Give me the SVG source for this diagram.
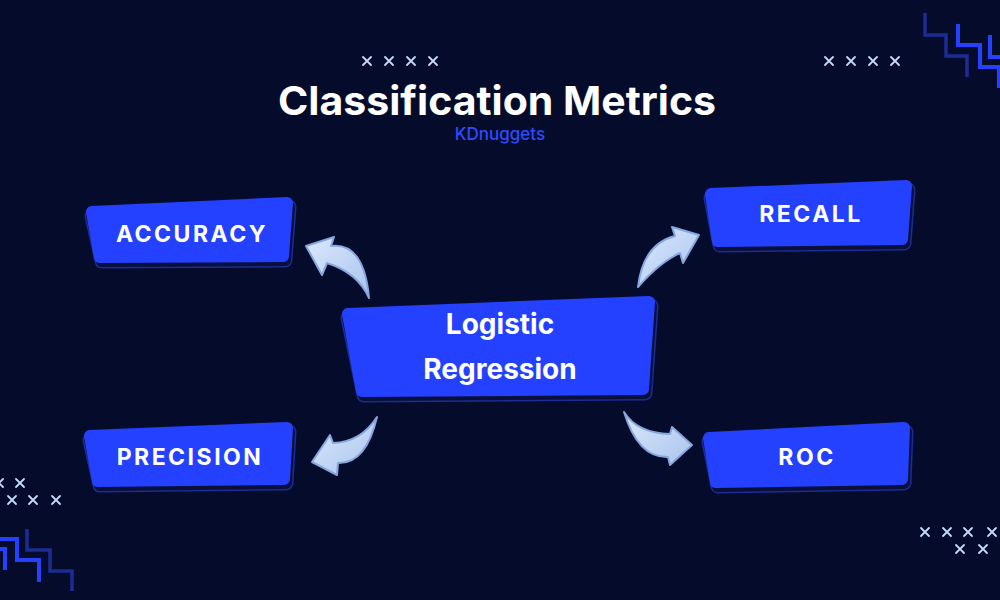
<svg xmlns="http://www.w3.org/2000/svg" width="1000" height="600" viewBox="0 0 1000 600">
<defs>
<style>
.bg{fill:#050b2b}
.sh1{fill:#1b2c95;stroke:#1b2c95;stroke-width:15;stroke-linejoin:round}
.sh2{fill:#08103a;stroke:#08103a;stroke-width:12;stroke-linejoin:round}
.box{fill:#2441ff;stroke:#2441ff;stroke-width:12;stroke-linejoin:round}
.lbl{fill:#ffffff;font-family:Inter,"Liberation Sans",sans-serif;font-weight:700;text-anchor:middle}
.cap{font-size:23px;letter-spacing:2.5px}
.big{font-size:28px}
.arr{fill:url(#ag);stroke:#86a6de;stroke-width:2;stroke-linejoin:round}
.x{stroke:#c9d9f7;stroke-width:1.8;stroke-linecap:round;fill:none}
.stB{stroke:#2441ff;stroke-width:4;fill:none}
.stD{stroke:#1c2c94;stroke-width:3.5;fill:none}
</style>
<linearGradient id="ag" x1="0" y1="0" x2="1" y2="1">
<stop offset="0" stop-color="#dbe8fb"/>
<stop offset="1" stop-color="#aac4ee"/>
</linearGradient>
<path id="xm" class="x" d="M-4,-4 L4,4 M4,-4 L-4,4"/>
</defs>
<rect class="bg" x="0" y="0" width="1000" height="600"/>

<g id="decor">
<use href="#xm" x="367" y="61"/><use href="#xm" x="389" y="61"/><use href="#xm" x="411" y="61"/><use href="#xm" x="433" y="61"/>
<use href="#xm" x="829" y="61"/><use href="#xm" x="851" y="61"/><use href="#xm" x="873" y="61"/><use href="#xm" x="895" y="61"/>
<use href="#xm" x="-1" y="483"/><use href="#xm" x="20" y="483"/>
<use href="#xm" x="12" y="500"/><use href="#xm" x="33" y="500"/><use href="#xm" x="56" y="500"/>
<use href="#xm" x="925" y="532"/><use href="#xm" x="947" y="532"/><use href="#xm" x="968" y="532"/><use href="#xm" x="992" y="532"/>
<use href="#xm" x="960" y="549"/><use href="#xm" x="983" y="549"/>
<path class="stD" d="M925,13 V35 H946 V56 H967 V77"/>
<path class="stB" d="M958,24 V45 H980 V67 H1001"/>
<path class="stB" d="M990,35 V57 H1001"/>
<path class="stB" d="M999,67 V88"/>
<path class="stD" d="M27,529 V550 H50 V571 H72 V591"/>
<path class="stB" d="M0,539 H17 V560 H39 V582"/>
<path class="stB" d="M0,549 H5 V570"/>
</g>

<g id="title">
<text class="lbl" x="497" y="115" font-size="40" textLength="438" lengthAdjust="spacingAndGlyphs">Classification Metrics</text>
<text x="500" y="140" font-family="Inter,'Liberation Sans',sans-serif" font-size="17" font-weight="500" fill="#2d4cff" text-anchor="middle">KDnuggets</text>
</g>

<g id="connectors">
<path class="arr" d="M369,298 Q364,242 331,246 L334,237 L306,246 L322,275 L327,263 Q358,273 369,298 Z"/>
<path class="arr" d="M638,287 Q643,244 675,236 L672,227 L699,235 L683,263 L680,253 Q660,262 638,287 Z"/>
<path class="arr" d="M377,417 Q361,442 333,443 L330,435 L312,462 L337,475 L338,463 Q366,464 377,417 Z"/>
<path class="arr" d="M624,412 Q637,433 670,434 L672,427 L692,445 L670,465 L668,457 Q638,458 624,412 Z"/>
</g>

<g id="node-center">
<polygon class="sh1" points="348,318 651,306 645,393 364,395"/>
<polygon class="sh2" points="348,318 651,306 645,393 364,395"/>
<polygon class="box" points="348,314 649,302 643,389 362,391"/>
<text class="lbl big" x="500" y="334">Logistic</text>
<text class="lbl big" x="500" y="379">Regression</text>
</g>

<g id="node-accuracy">
<polygon class="sh1" points="92,216 289,207 285,260 102,261"/>
<polygon class="sh2" points="92,216 289,207 285,260 102,261"/>
<polygon class="box" points="92,212 287,203 283,256 100,257"/>
<text class="lbl cap" x="192" y="242">ACCURACY</text>
</g>

<g id="node-recall">
<polygon class="sh1" points="711,198 908,190 904,243 720,245"/>
<polygon class="sh2" points="711,198 908,190 904,243 720,245"/>
<polygon class="box" points="711,194 906,186 902,239 718,241"/>
<text class="lbl cap" x="811" y="222">RECALL</text>
</g>

<g id="node-precision">
<polygon class="sh1" points="90,440 289,432 286,483 100,485"/>
<polygon class="sh2" points="90,440 289,432 286,483 100,485"/>
<polygon class="box" points="90,436 287,428 284,479 98,481"/>
<text class="lbl cap" x="190" y="465">PRECISION</text>
</g>

<g id="node-roc">
<polygon class="sh1" points="709,442 906,432 904,483 718,486"/>
<polygon class="sh2" points="709,442 906,432 904,483 718,486"/>
<polygon class="box" points="709,438 904,428 902,479 716,482"/>
<text class="lbl cap" x="807" y="465">ROC</text>
</g>
</svg>
